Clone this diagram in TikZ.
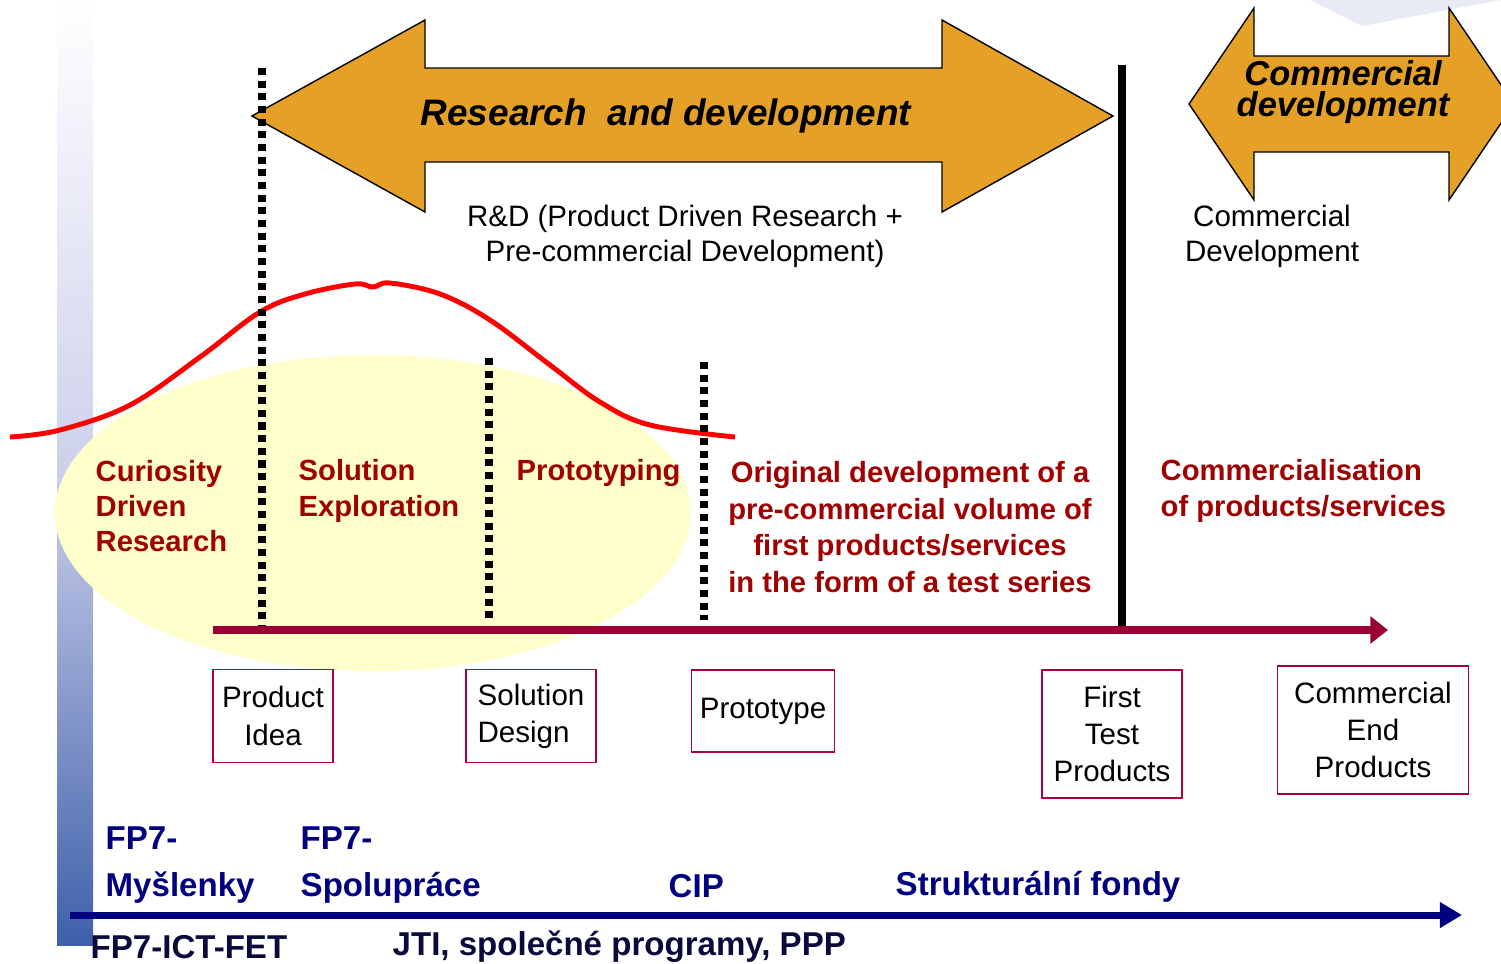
\documentclass[tikz,border=0pt]{standalone}
\usepackage{fontspec}
\setmainfont{Liberation Sans}
\usetikzlibrary{arrows.meta}
\definecolor{rdorange}{RGB}{229,161,39}
\definecolor{phasered}{RGB}{160,0,0}
\definecolor{linered}{RGB}{153,0,51}
\definecolor{boxred}{RGB}{176,0,58}
\definecolor{fundblue}{RGB}{0,0,128}
\definecolor{funddark}{RGB}{10,10,60}
\definecolor{paleyellow}{RGB}{255,255,204}
\definecolor{barblue}{RGB}{62,96,170}
\definecolor{barpale}{RGB}{205,208,235}
\definecolor{cornergrey}{RGB}{232,235,243}

\begin{document}
\begin{tikzpicture}[x=0.01cm, y=-0.01cm,
    bigarrow/.style={fill=rdorange, draw=black, line width=0.4pt},
    barrier/.style={line width=2pt, dash pattern=on 2pt off 1.6pt},
    phase/.style={text=phasered, font=\fontsize{8.3}{10}\selectfont\bfseries, align=left, inner sep=0pt},
    milestone/.style={draw=boxred, line width=0.4pt, font=\fontsize{8.4}{10.6}\selectfont, align=center, inner sep=0pt},
    fund/.style={text=fundblue, font=\fontsize{9.4}{13.4}\selectfont\bfseries, align=left, inner sep=0pt, anchor=west}
  ]
    \useasboundingbox (0,0) rectangle (1501,963);
    \clip (0,0) rectangle (1501,963);

    \fill[cornergrey] (1310,0) -- (1362,26) -- (1501,0) -- cycle;
    \shade[top color=white, bottom color=barblue, middle color=barpale] (57,0) rectangle (93,945);

    \fill[paleyellow] (373,513) ellipse [x radius=318, y radius=158];

    \draw[red, line width=1.4pt] plot[smooth, tension=0.6] coordinates {(10,437) (60,430) (130,405) (200,357) (260,312) (305,294) (355,284) (373,287) (390,283) (440,294) (490,320) (550,365) (600,402) (650,425) (735,437)};

    \draw[bigarrow] (252,116) -- (425,20) -- (425,68) -- (942,68) -- (942,20) -- (1113,116)
      -- (942,212) -- (942,162) -- (425,162) -- (425,212) -- cycle;
    \draw[bigarrow] (1189,104) -- (1254,8) -- (1254,56) -- (1449,56) -- (1449,8) -- (1514,104)
      -- (1449,200) -- (1449,152) -- (1254,152) -- (1254,200) -- cycle;

    \draw (666,116) node[font=\fontsize{10.5}{12}\selectfont\bfseries\itshape](rdhead){Research\ \ and development}
      (1343,92) node[font=\fontsize{9.8}{8.6}\selectfont\bfseries\itshape, align=center](comhead){Commercial\\development}
      (685,236) node[font=\fontsize{8.4}{10}\selectfont, align=center](rdnote){R\&D (Product Driven Research +\\Pre-commercial Development)}
      (1272,236) node[font=\fontsize{8.4}{10}\selectfont, align=center](comnote){Commercial\\Development};

    \coordinate (gateA) at (262,68);
    \coordinate (gateAend) at (262,630);
    \coordinate (gateB) at (489,358);
    \coordinate (gateBend) at (489,620);
    \coordinate (gateC) at (704,362);
    \coordinate (gateCend) at (704,620);
    \draw[barrier] (gateA) -- (gateAend);
    \draw[barrier] (gateB) -- (gateBend);
    \draw[barrier] (gateC) -- (gateCend);

    \coordinate (launch) at (1122,65);
    \coordinate (launchend) at (1122,628);
    \draw[line width=2.3pt] (launch) -- (launchend);

    \draw (95,506) node[phase, anchor=west](curiosity){Curiosity\\Driven\\Research}
      (298,491) node[phase, anchor=west](exploration){Solution\\Exploration}
      (516,473) node[phase, anchor=west](prototyping){Prototyping}
      (910,527) node[phase, align=center, font=\fontsize{8.3}{10.4}\selectfont\bfseries](testseries){Original development of a\\pre-commercial volume of\\first products/services\\in the form of a test series}
      (1160,491) node[phase, anchor=west](commercialisation){Commercialisation\\of products/services};

    \coordinate (tstart) at (213,630);
    \coordinate (tend) at (1388,630);
    \draw[linered, line width=2.3pt, -{Triangle[length=5pt, width=7.5pt]}] (tstart) -- (tend);

    \draw (273,716) node[milestone, minimum width=1.2cm, minimum height=0.93cm](idea){Product\\Idea}
      (531,716) node[milestone, minimum width=1.3cm, minimum height=0.93cm, align=left](design){Solution\\Design}
      (763,711) node[milestone, minimum width=1.43cm, minimum height=0.82cm](prototype){Prototype}
      (1112,734) node[milestone, minimum width=1.4cm, minimum height=1.28cm](firsttest){First\\Test\\Products}
      (1373,730) node[milestone, minimum width=1.91cm, minimum height=1.28cm](endproducts){Commercial\\End\\Products};

    \coordinate (fstart) at (70,915);
    \coordinate (fend) at (1462,915);
    \draw[fundblue, line width=2pt, -{Triangle[length=6.3pt, width=7pt]}] (fstart) -- (fend);

    \draw (105,865) node[fund](myslenky){FP7-\\Myšlenky}
      (300,865) node[fund](spoluprace){FP7-\\Spolupráce}
      (668,886) node[fund](cip){CIP}
      (895,887) node[fund](strukt){Strukturální fondy}
      (90,947) node[fund, text=funddark](fet){FP7-ICT-FET}
      (392,947) node[fund, text=funddark](jti){JTI, společné programy, PPP};
\end{tikzpicture}
\end{document}
